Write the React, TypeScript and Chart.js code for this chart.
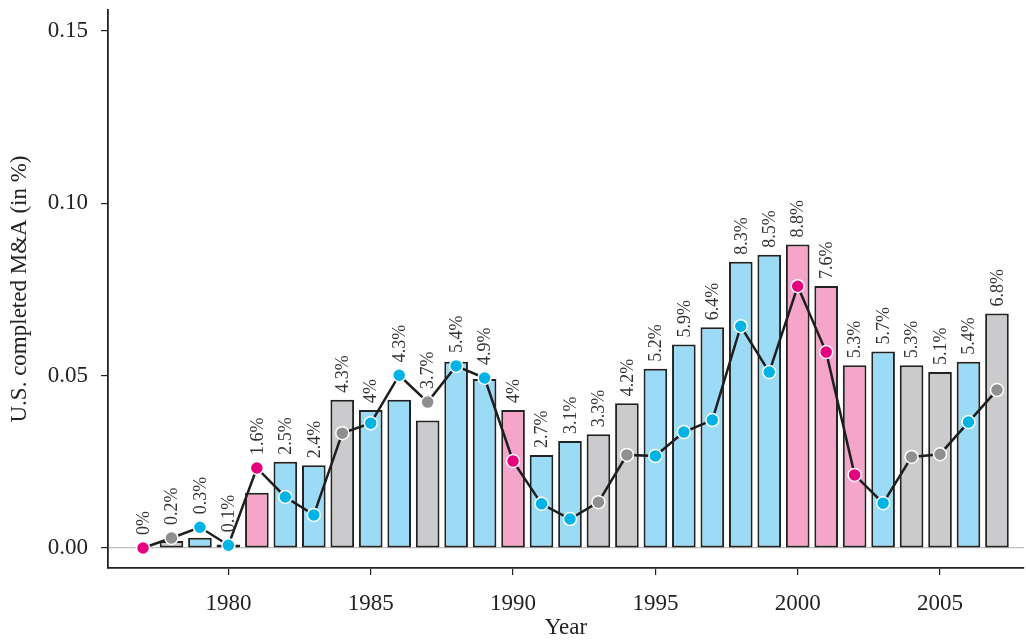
import React, { useEffect, useRef } from "react";
import { Chart, registerables } from "chart.js";

Chart.register(...registerables);

const years = [
  1977, 1978, 1979, 1980, 1981, 1982, 1983, 1984, 1985, 1986, 1987, 1988, 1989, 1990, 1991, 1992,
  1993, 1994, 1995, 1996, 1997, 1998, 1999, 2000, 2001, 2002, 2003, 2004, 2005, 2006, 2007,
];
const barValues = [
  0, 0.002, 0.003, 0.001, 0.016, 0.025, 0.024, 0.043, 0.04, 0.043, 0.037, 0.054, 0.049, 0.04, 0.027,
  0.031, 0.033, 0.042, 0.052, 0.059, 0.064, 0.083, 0.085, 0.088, 0.076, 0.053, 0.057, 0.053, 0.051,
  0.054, 0.068,
];
const lineValues = [
  0, 0.0029, 0.006, 0.0008, 0.0232, 0.0148, 0.0096, 0.0333, 0.0362, 0.0501, 0.0423, 0.0528, 0.0493,
  0.0252, 0.0128, 0.0084, 0.0133, 0.027, 0.0267, 0.0336, 0.0371, 0.0643, 0.051, 0.0759, 0.0568,
  0.0212, 0.013, 0.0264, 0.0272, 0.0365, 0.0458,
];
const groups = [
  "pink", "gray", "blue", "blue", "pink", "blue", "blue", "gray", "blue", "blue", "gray", "blue", "blue",
  "pink", "blue", "blue", "gray", "gray", "blue", "blue", "blue", "blue", "blue", "pink", "pink", "pink",
  "blue", "gray", "gray", "blue", "gray",
];
const xTicks = [1980, 1985, 1990, 1995, 2000, 2005];
const yTicks = [0, 0.05, 0.1, 0.15];

const barFill: Record<string, string> = { pink: "#f4a5c9", gray: "#cbcbcd", blue: "#9cdbf5" };
const pointFill: Record<string, string> = { pink: "#e6007e", gray: "#8f8f92", blue: "#00b3e6" };

const SERIF = "'Liberation Serif', 'DejaVu Serif', serif";

const labelPlugin = {
  id: "barLabels",
  afterDatasetsDraw(chart: any) {
    const { ctx, scales } = chart;
    const xs = scales.x;
    const ys = scales.y;
    ctx.save();
    ctx.font = `18px ${SERIF}`;
    ctx.fillStyle = "#333";
    ctx.textAlign = "left";
    ctx.textBaseline = "middle";
    years.forEach((yr, i) => {
      const px = xs.getPixelForValue(yr);
      const barTop = ys.getPixelForValue(barValues[i]);
      const ptTop = ys.getPixelForValue(lineValues[i]) - 6;
      const py = Math.min(barTop, ptTop) - 7;
      const txt = `${+(barValues[i] * 100).toFixed(1)}%`;
      ctx.save();
      ctx.translate(px + 1, py);
      ctx.rotate(-Math.PI / 2);
      ctx.fillText(txt, 0, 0);
      ctx.restore();
    });
    ctx.restore();
  },
};

export default function App() {
  const ref = useRef<HTMLCanvasElement>(null);
  useEffect(() => {
    if (!ref.current) return;
    const chart = new Chart(ref.current, {
      type: "bar",
      data: {
        datasets: [
          {
            type: "line",
            data: years.map((x, i) => ({ x, y: lineValues[i] })),
            borderColor: "#1e1e1e",
            borderWidth: 2.5,
            pointRadius: 6.5,
            pointBorderWidth: 1.5,
            pointBorderColor: "#ffffff",
            pointBackgroundColor: groups.map((g) => pointFill[g]),
            order: 0,
          } as any,
          {
            type: "bar",
            data: years.map((x, i) => ({ x, y: barValues[i] })),
            backgroundColor: groups.map((g) => barFill[g]),
            borderColor: "#222",
            borderWidth: 2,
            borderSkipped: false,
            categoryPercentage: 1,
            barPercentage: 0.83,
            order: 1,
          } as any,
        ],
      },
      options: {
        animation: false,
        responsive: true,
        maintainAspectRatio: false,
        layout: { padding: { top: 10, right: 2, left: 0, bottom: 0 } },
        plugins: { legend: { display: false }, tooltip: { enabled: false } },
        scales: {
          x: {
            type: "linear",
            offset: false,
            min: 1975.77,
            max: 2007.95,
            afterBuildTicks: (s: any) => {
              s.ticks = xTicks.map((v) => ({ value: v }));
            },
            afterFit: (s: any) => {
              s.height = 74;
              s.paddingLeft = 0;
              s.paddingRight = 0;
            },
            grid: { offset: false, drawOnChartArea: false, tickLength: 7, color: "#222", lineWidth: 1.2 },
            border: { color: "#222", width: 1.8 },
            ticks: {
              color: "#222",
              font: { family: SERIF, size: 23 },
              padding: 15,
              maxRotation: 0,
              callback: (v: any) => String(v),
            },
            title: {
              display: true,
              text: "Year",
              color: "#222",
              font: { family: SERIF, size: 23 },
              padding: { top: 2, bottom: 0 },
            },
          },
          y: {
            type: "linear",
            min: -0.0058,
            max: 0.156,
            afterBuildTicks: (s: any) => {
              s.ticks = yTicks.map((v) => ({ value: v }));
            },
            afterFit: (s: any) => {
              s.width = 108;
              s.paddingTop = 0;
              s.paddingBottom = 0;
            },
            grid: {
              drawOnChartArea: true,
              tickLength: 7,
              color: (c: any) => (c.tick && c.tick.value === 0 ? "#bdbdbd" : "rgba(0,0,0,0)"),
              tickColor: "#222",
              lineWidth: 1.2,
            },
            border: { color: "#222", width: 1.8 },
            ticks: {
              color: "#222",
              font: { family: SERIF, size: 23 },
              padding: 13,
              callback: (v: any) => Number(v).toFixed(2),
            },
            title: {
              display: true,
              text: "U.S. completed M&A (in %)",
              color: "#222",
              font: { family: SERIF, size: 23 },
              padding: { top: 6, bottom: 0 },
            },
          },
        },
      },
      plugins: [labelPlugin],
    });
    return () => chart.destroy();
  }, []);
  return (
    <div style={{ position: "fixed", left: 0, top: 0, width: 1032, height: 642 }}>
      <canvas ref={ref} />
    </div>
  );
}
